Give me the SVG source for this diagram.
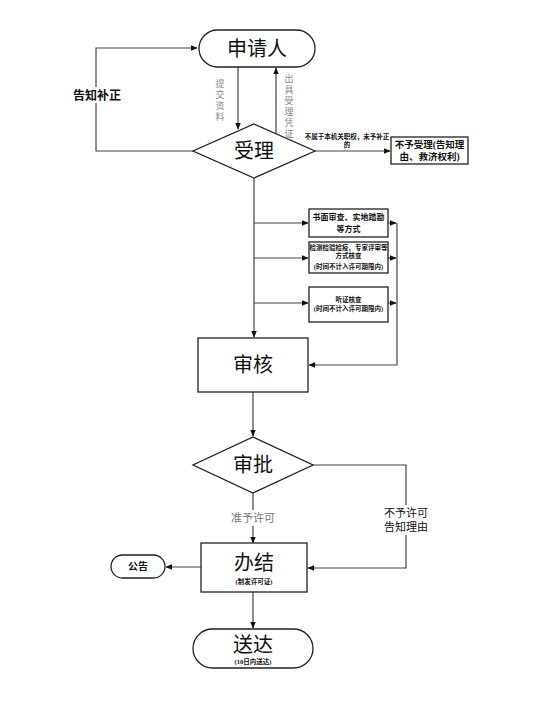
<svg xmlns="http://www.w3.org/2000/svg" width="553" height="702" viewBox="0 0 553 702">
<style>
.shape{fill:#fff;stroke:#222;stroke-width:1.3}
.ln{fill:none;stroke:#444;stroke-width:1.2}
.t{font-family:"Liberation Serif","Noto Sans CJK SC",serif;fill:#111;text-anchor:middle}
.big{font-size:20px}
.mid{font-size:12px;font-weight:bold}
.sm{font-size:6.5px;font-weight:bold}
.gray{fill:#888;font-size:9px}
</style>
<defs>
<marker id="ah" viewBox="0 0 10 10" refX="9" refY="5" markerWidth="7" markerHeight="7" markerUnits="userSpaceOnUse" orient="auto">
<path d="M0,1 L10,5 L0,9 z" fill="#111"/>
</marker>
</defs>
<rect width="553" height="702" fill="#fff"/>
<g id="connectors">
<polyline class="ln" points="193,151 96,151 96,48 197,48" marker-end="url(#ah)"/>
<line class="ln" x1="238" y1="67" x2="238" y2="129" marker-end="url(#ah)"/>
<line class="ln" x1="276" y1="143" x2="276" y2="68" marker-end="url(#ah)"/>
<line class="ln" x1="315" y1="151" x2="390" y2="151" marker-end="url(#ah)"/>
<line class="ln" x1="254" y1="178" x2="254" y2="337" marker-end="url(#ah)"/>
<line class="ln" x1="254" y1="223" x2="308" y2="223" marker-end="url(#ah)"/>
<line class="ln" x1="254" y1="258" x2="308" y2="258" marker-end="url(#ah)"/>
<line class="ln" x1="254" y1="303" x2="308" y2="303" marker-end="url(#ah)"/>
<line class="ln" x1="388" y1="223" x2="396" y2="223" marker-end="url(#ah)"/>
<line class="ln" x1="388" y1="258" x2="396" y2="258" marker-end="url(#ah)"/>
<line class="ln" x1="388" y1="303" x2="396" y2="303" marker-end="url(#ah)"/>
<polyline class="ln" points="397,223 397,365 309,365" marker-end="url(#ah)"/>
<line class="ln" x1="253" y1="392" x2="253" y2="436" marker-end="url(#ah)"/>
<line class="ln" x1="253" y1="493" x2="253" y2="543" marker-end="url(#ah)"/>
<polyline class="ln" points="313,465 406,465 406,568 308,568" marker-end="url(#ah)"/>
<line class="ln" x1="201" y1="567" x2="166" y2="567" marker-end="url(#ah)"/>
<line class="ln" x1="253" y1="592" x2="253" y2="628" marker-end="url(#ah)"/>
</g>
<g id="label-buzheng">
<rect x="74" y="87" width="46" height="16" fill="#fff"/>
<text class="t mid" x="97" y="100">告知补正</text>
</g>
<g id="label-tijiao">
<text class="t gray" x="220" y="87">提</text>
<text class="t gray" x="220" y="98">交</text>
<text class="t gray" x="220" y="109">资</text>
<text class="t gray" x="220" y="120">料</text>
</g>
<g id="label-chuju">
<text class="t gray" x="289" y="82">出</text>
<text class="t gray" x="289" y="93">具</text>
<text class="t gray" x="289" y="104">受</text>
<text class="t gray" x="289" y="115">理</text>
<text class="t gray" x="289" y="126">凭</text>
<text class="t gray" x="289" y="137">证</text>
</g>
<g id="label-bushu">
<text class="t sm" x="347" y="139">不属于本机关职权，未予补正</text>
<text class="t sm" x="347" y="147">的</text>
</g>
<g id="label-zhunyu">
<rect x="228" y="510" width="50" height="16" fill="#fff"/>
<text class="t" style="font-size:11px;fill:#777" x="253" y="522">准予许可</text>
</g>
<g id="label-buyu">
<rect x="382" y="505" width="48" height="30" fill="#fff"/>
<text class="t" style="font-size:11px" x="406" y="517">不予许可</text>
<text class="t" style="font-size:11px" x="406" y="531">告知理由</text>
</g>
<g id="node-shenqingren">
<rect class="shape" x="199" y="30" width="116" height="37" rx="18.5"/>
<text class="t big" x="257" y="56">申请人</text>
</g>
<g id="node-shouli">
<polygon class="shape" points="254,124 315,151 254,178 193,151"/>
<text class="t big" x="254" y="158">受理</text>
</g>
<g id="node-buyushouli">
<rect class="shape" x="391" y="137" width="77" height="27"/>
<text class="t" style="font-size:9.5px;font-weight:bold" x="429.5" y="148">不予受理(告知理</text>
<text class="t" style="font-size:9.5px;font-weight:bold" x="429.5" y="160">由、救济权利)</text>
</g>
<g id="node-shumian">
<rect class="shape" x="309" y="209" width="79" height="28"/>
<text class="t" style="font-size:8px;font-weight:bold" x="348.5" y="220">书面审查、实地踏勘</text>
<text class="t" style="font-size:8px;font-weight:bold" x="348.5" y="232">等方式</text>
</g>
<g id="node-jiance">
<rect class="shape" x="309" y="242" width="79" height="31"/>
<text class="t sm" x="348.5" y="250">检测检验检疫、专家评审等</text>
<text class="t sm" x="348.5" y="258">方式核查</text>
<text class="t sm" x="348.5" y="269">(时间不计入许可期限内)</text>
</g>
<g id="node-tingzheng">
<rect class="shape" x="309" y="287" width="79" height="35"/>
<text class="t sm" x="348.5" y="302">听证核查</text>
<text class="t sm" x="348.5" y="311">(时间不计入许可期限内)</text>
</g>
<g id="node-shenhe">
<rect class="shape" x="198" y="338" width="110" height="54"/>
<text class="t big" x="253" y="372">审核</text>
</g>
<g id="node-shenpi">
<polygon class="shape" points="253,437 313,465 253,493 193,465"/>
<text class="t big" x="253" y="472">审批</text>
</g>
<g id="node-banjie">
<rect class="shape" x="201" y="543" width="106" height="49"/>
<text class="t big" x="254" y="570">办结</text>
<text class="t sm" x="254" y="584">(制发许可证)</text>
</g>
<g id="node-gonggao">
<rect class="shape" x="111" y="555" width="54" height="23" rx="11.5"/>
<text class="t" style="font-size:10px;font-weight:bold" x="138" y="570">公告</text>
</g>
<g id="node-songda">
<rect class="shape" x="193" y="629" width="120" height="39" rx="19.5"/>
<text class="t big" x="253" y="652">送达</text>
<text class="t sm" x="253" y="664">(10日内送达)</text>
</g>
</svg>
